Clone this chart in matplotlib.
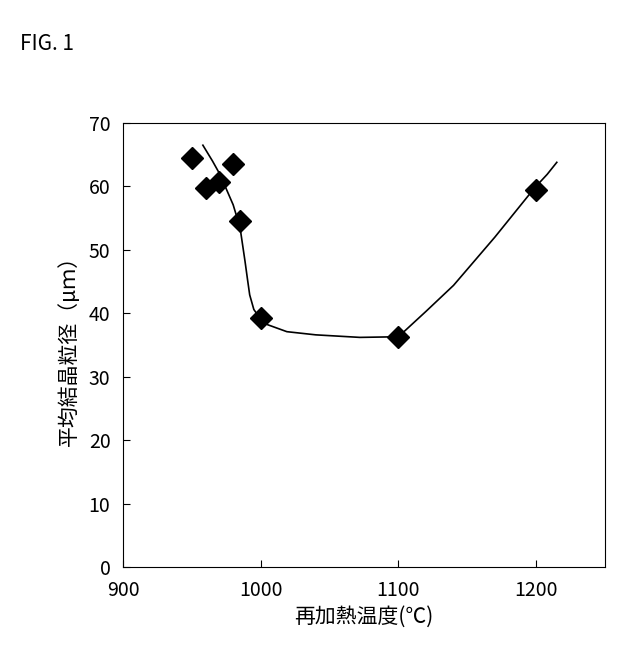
import matplotlib
matplotlib.use("Agg")
import matplotlib.pyplot as plt

# measured points
temp = [950, 960, 970, 980, 985, 1000, 1100, 1200]
grain = [64.5, 59.8, 60.7, 63.6, 54.6, 39.2, 36.3, 59.5]

# fitted trend curve
curve_t = [958, 965, 970.4, 975, 980, 985, 988.6, 990.5, 992, 995, 999.5, 1005, 1019, 1040,
           1072, 1100, 1120, 1140, 1170, 1199, 1208, 1215]
curve_g = [66.5, 64.0, 61.9, 59.6, 57.1, 53.5, 48.2, 45.2, 42.9, 40.6, 39.2, 38.2, 37.1, 36.6,
           36.2, 36.3, 40.3, 44.4, 52.0, 59.8, 61.9, 63.8]

plt.rcParams["font.family"] = ["Noto Sans CJK JP"]
fig = plt.figure(figsize=(6.4, 6.68), dpi=100)
ax = fig.add_axes([123 / 640, 1 - 567 / 668, 482 / 640, 444 / 668])

ax.plot(curve_t, curve_g, color="black", lw=1.2)
ax.plot(temp, grain, ls="none", marker="D", ms=11, color="black")

ax.set_xlim(900, 1250)
ax.set_ylim(0, 70)
ax.set_xticks([900, 1000, 1100, 1200])
ax.set_yticks(range(0, 71, 10))
ax.tick_params(labelsize=14, direction="in", length=5)
ax.tick_params(axis="x", pad=9)
ax.tick_params(axis="y", pad=9)
ax.set_xlabel("再加熱温度(℃)", fontsize=15, labelpad=4)
ax.set_ylabel("平均結晶粒径（μｍ）", fontsize=15, labelpad=6)
for s in ax.spines.values():
    s.set_linewidth(0.8)

fig.text(20 / 640, 1 - 50 / 668, "FIG. 1", fontsize=15)
fig.savefig("out.png", dpi=100)
